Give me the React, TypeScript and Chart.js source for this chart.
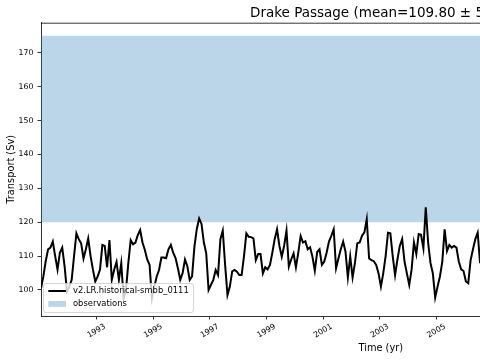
import React, { useEffect, useRef } from "react";
import { Chart, registerables } from "chart.js";

Chart.register(...registerables);

// ---- data ----
const startYear = 1991 + 0.5 / 12; // first monthly sample (mid-Jan 1991)
const transport: number[] = [
  100.5, 104, 108.5, 112, 112.5, 114.3, 110, 106, 111, 112.5, 107, 99.5,
  101, 103, 110, 116.7, 115, 113.8, 109.3, 112, 115.2, 110, 106, 102.5,
  104, 106, 113.3, 113, 106.7, 114.7, 103, 106, 108.3, 103, 107.9, 97.5,
  100, 108, 114.7, 113.5, 114, 116.2, 117.7, 114, 111.8, 109, 107.4, 97.5,
  101, 103.9, 105.9, 109.6, 109.6, 109.4, 112, 113.3, 111, 109.4, 106.4, 103,
  105, 109, 107, 103, 104, 112.8, 118, 121.1, 119.5, 114, 110.8, 100,
  101.5, 103, 105.9, 104.4, 115, 117.5, 107.4, 98.5, 101, 105.5, 105.9, 105.4,
  104.4, 104.4, 110, 116.7, 115.7, 115.6, 115.2, 108.8, 110.6, 110.6, 104.9, 106.7,
  106.1, 107.4, 111, 115, 117.9, 113, 109.8, 113, 117.5, 106.9, 109, 110.8,
  106.7, 111, 115.9, 114, 114.4, 112, 112.6, 109.8, 105.7, 111.2, 112, 107.4,
  108.4, 111, 114.3, 116, 117.9, 106.4, 109.3, 112, 114.3, 111.3, 103.7, 109.9,
  103.7, 108, 113.8, 114, 116, 117, 120.9, 109.3, 108.8, 108.5, 107.4, 104.9,
  101, 105, 110, 116.9, 116.7, 110, 104.4, 109, 113, 115, 108.4, 104.9,
  101.5, 106, 114, 110.6, 116.5, 116.3, 112.3, 124.4, 114, 108, 104.9, 97.8,
  101, 104, 108.3, 117.9, 111.5, 113.3, 112.5, 113, 112.5, 108.4, 106.1, 105.6,
  102.5, 102, 108.8, 112, 115, 116.9, 107.9, 110,
];
const obsLow = 120;
const obsHigh = 175;
const xTickYears = [1993, 1995, 1997, 1999, 2001, 2003, 2005];
const yTickValues = [100, 110, 120, 130, 140, 150, 160, 170];
const seriesLabel = "v2.LR.historical-smbb_0111";
const obsLabel = "observations";
const titleText = "Drake Passage (mean=109.80 \u00b1 5";
const xTitle = "Time (yr)";
const yTitle = "Transport (Sv)";

const xMin = startYear;
const xMax = 2006.54;
const yMin = 92.33;
const yMax = 178.85;

const FONT = "'DejaVu Sans', sans-serif";
const obsColor = "rgba(31,119,180,0.3)";

export default function App() {
  const ref = useRef<HTMLCanvasElement | null>(null);

  useEffect(() => {
    const canvas = ref.current;
    if (!canvas) return;

    const decor = {
      id: "decor",
      afterDraw(chart: any) {
        const ctx = chart.ctx as CanvasRenderingContext2D;
        const area = chart.chartArea;
        const xs = chart.scales.x;
        ctx.save();
        // top spine
        ctx.strokeStyle = "#000";
        ctx.lineWidth = 0.8;
        ctx.beginPath();
        ctx.moveTo(area.left, area.top + 0.5);
        ctx.lineTo(area.right, area.top + 0.5);
        ctx.stroke();

        // x tick labels, rotated 30deg
        ctx.fillStyle = "#000";
        ctx.font = `7.8px ${FONT}`;
        ctx.textAlign = "center";
        ctx.textBaseline = "middle";
        for (const yr of xTickYears) {
          const px = xs.getPixelForValue(yr);
          ctx.save();
          ctx.translate(px, area.bottom + 15);
          ctx.rotate((-30 * Math.PI) / 180);
          ctx.fillText(String(yr), 0, 0);
          ctx.restore();
        }

        // axis titles
        ctx.font = `9.8px ${FONT}`;
        ctx.fillText(xTitle, 380.8, 348.5);
        ctx.save();
        ctx.translate(11.7, (area.top + area.bottom) / 2);
        ctx.rotate(-Math.PI / 2);
        ctx.fillText(yTitle, 0, 0);
        ctx.restore();

        // title
        ctx.font = `13.5px ${FONT}`;
        ctx.textAlign = "left";
        ctx.fillText(titleText, 250, 13);

        // legend
        const lx = 43.5, ly = 283.5, lw = 150, lh = 29, r = 2.5;
        ctx.fillStyle = "rgba(255,255,255,0.8)";
        ctx.strokeStyle = "rgba(204,204,204,0.8)";
        ctx.lineWidth = 1;
        ctx.beginPath();
        ctx.roundRect(lx, ly, lw, lh, r);
        ctx.fill();
        ctx.stroke();

        const ds = chart.data.datasets;
        ctx.strokeStyle = "#000";
        ctx.lineWidth = 2;
        ctx.beginPath();
        ctx.moveTo(48.3, 291);
        ctx.lineTo(66, 291);
        ctx.stroke();
        ctx.fillStyle = obsColor;
        ctx.fillRect(48.3, 301, 17.7, 5.8);
        ctx.fillStyle = "#000";
        ctx.font = `8.4px ${FONT}`;
        ctx.textBaseline = "middle";
        ctx.fillText(ds[0].label, 73, 291);
        ctx.fillText(ds[1].label, 73, 304);
        ctx.restore();
      },
    };

    const chart = new Chart(canvas, {
      type: "line",
      data: {
        datasets: [
          {
            label: seriesLabel,
            data: transport.map((v, i) => ({ x: startYear + i / 12, y: v })),
            borderColor: "#000",
            borderWidth: 2,
            pointRadius: 0,
            fill: false,
            tension: 0,
            order: 0,
          },
          {
            label: obsLabel,
            data: [
              { x: xMin - 1, y: obsHigh },
              { x: xMax + 1, y: obsHigh },
            ],
            borderWidth: 0,
            borderColor: "rgba(0,0,0,0)",
            backgroundColor: obsColor,
            pointRadius: 0,
            fill: { value: obsLow },
            order: 1,
          },
        ],
      },
      options: {
        animation: false,
        responsive: false,
        maintainAspectRatio: false,
        layout: { padding: { top: 22.7, left: 0, right: 0, bottom: 0 } },
        plugins: {
          legend: { display: false },
          tooltip: { enabled: false },
          title: { display: false },
        },
        scales: {
          x: {
            type: "linear",
            min: xMin,
            max: xMax,
            afterBuildTicks: (s: any) => {
              s.ticks = xTickYears.map((v) => ({ value: v }));
            },
            afterFit: (s: any) => {
              s.height = 44;
            },
            ticks: { display: false },
            grid: {
              display: true,
              drawOnChartArea: false,
              drawTicks: true,
              tickLength: 3.5,
              color: "#000",
              lineWidth: 0.8,
            },
            border: { display: true, color: "#000", width: 0.8 },
          },
          y: {
            type: "linear",
            min: yMin,
            max: yMax,
            afterBuildTicks: (s: any) => {
              s.ticks = yTickValues.map((v) => ({ value: v }));
            },
            afterFit: (s: any) => {
              s.width = 41;
            },
            ticks: {
              color: "#000",
              font: { family: FONT, size: 7.8 },
              padding: 4,
            },
            grid: {
              display: true,
              drawOnChartArea: false,
              drawTicks: true,
              tickLength: 3.5,
              color: "#000",
              lineWidth: 0.8,
            },
            border: { display: true, color: "#000", width: 0.8 },
          },
        },
      },
      plugins: [decor],
    } as any);

    return () => chart.destroy();
  }, []);

  return (
    <div
      style={{
        position: "fixed",
        left: 0,
        top: 0,
        width: 480,
        height: 360,
        background: "#fff",
        overflow: "hidden",
      }}
    >
      <canvas ref={ref} width={480} height={360} style={{ width: 480, height: 360, display: "block" }} />
    </div>
  );
}
